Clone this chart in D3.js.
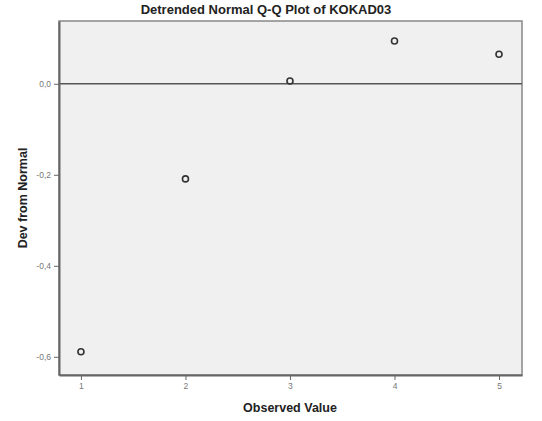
<!DOCTYPE html>
<html><head><meta charset="utf-8">
<script src="https://cdn.jsdelivr.net/npm/d3@7"></script>
<style>body{margin:0;background:#fff}svg{display:block}</style>
</head><body>
<script>
const observed = [1, 2, 3, 4, 5];
const devFromNormal = [-0.589, -0.209, 0.006, 0.094, 0.065];
const xTicks = [1, 2, 3, 4, 5];
const yTicks = [0.0, -0.2, -0.4, -0.6];
const yTickLabels = ["0,0", "-0,2", "-0,4", "-0,6"];

const W = 542, H = 421;
const m = {l: 59, t: 21, r: 20, b: 46};
const svg = d3.select("body").append("svg").attr("width", W).attr("height", H);
const x = d3.scaleLinear().domain([0.79, 5.22]).range([m.l, W - m.r]);
const y = d3.scaleLinear().domain([-0.64, 0.138]).range([H - m.b, m.t]);
const font = "Arial, 'Liberation Sans', sans-serif";

svg.append("rect").attr("x", m.l).attr("y", m.t)
  .attr("width", W - m.r - m.l).attr("height", H - m.b - m.t)
  .attr("fill", "#f0f0f0").attr("stroke", "#888").attr("stroke-width", 1.5);

svg.append("line").attr("x1", m.l).attr("x2", W - m.r)
  .attr("y1", y(0)).attr("y2", y(0)).attr("stroke", "#555").attr("stroke-width", 1.5);

const xa = svg.append("g").attr("transform", `translate(0,${H - m.b})`)
  .call(d3.axisBottom(x).tickValues(xTicks).tickSize(5).tickSizeOuter(0).tickFormat(d3.format("d")));
const ya = svg.append("g").attr("transform", `translate(${m.l},0)`)
  .call(d3.axisLeft(y).tickValues(yTicks).tickSize(5).tickSizeOuter(0).tickFormat((d, i) => yTickLabels[i]));
[xa, ya].forEach(a => {
  a.select(".domain").attr("stroke", "#666").attr("stroke-width", 2);
  a.selectAll(".tick line").attr("stroke", "#666");
  a.selectAll("text").attr("fill", "#777").style("font-family", font).style("font-size", "8.5px");
});

svg.selectAll("circle.pt").data(observed).enter().append("circle")
  .attr("class", "pt").attr("cx", d => x(d)).attr("cy", (d, i) => y(devFromNormal[i]))
  .attr("r", 3).attr("fill", "none").attr("stroke", "#333").attr("stroke-width", 1.6);

svg.append("text").attr("x", 266).attr("y", 14).attr("text-anchor", "middle")
  .style("font-family", font).style("font-size", "13px").style("font-weight", "bold")
  .attr("fill", "#222").text("Detrended Normal Q-Q Plot of KOKAD03");
svg.append("text").attr("x", 290).attr("y", 412).attr("text-anchor", "middle")
  .style("font-family", font).style("font-size", "12.5px").style("font-weight", "bold")
  .attr("fill", "#222").text("Observed Value");
svg.append("text").attr("transform", "translate(27,198) rotate(-90)").attr("text-anchor", "middle")
  .style("font-family", font).style("font-size", "12.5px").style("font-weight", "bold")
  .attr("fill", "#222").text("Dev from Normal");
</script>
</body></html>
